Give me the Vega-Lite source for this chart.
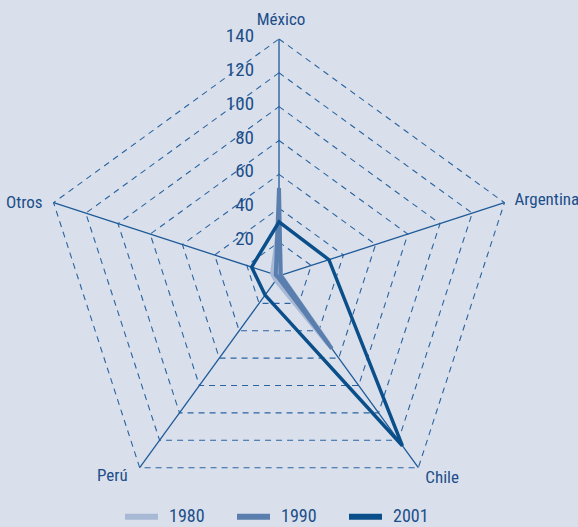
{
  "$schema": "https://vega.github.io/schema/vega-lite/v6.json",
  "width": 578,
  "height": 527,
  "autosize": "none",
  "padding": 0,
  "background": "#d9e0ec",
  "config": {
    "view": {"stroke": null},
    "font": "Roboto Condensed, Liberation Sans Narrow, DejaVu Sans Condensed, Roboto, sans-serif",
    "legend": {
      "orient": "none",
      "legendX": 122,
      "legendY": 497,
      "direction": "horizontal",
      "symbolType": "stroke",
      "symbolSize": 1089,
      "symbolStrokeWidth": 6,
      "labelFontSize": 18,
      "labelColor": "#1d4e89",
      "labelOffset": 8,
      "columnPadding": 20,
      "padding": 0
    }
  },
  "datasets": {
    "series": [
      {"year": "1980", "axis": "México", "value": 30},
      {"year": "1980", "axis": "Argentina", "value": 1},
      {"year": "1980", "axis": "Chile", "value": 50},
      {"year": "1980", "axis": "Perú", "value": 3},
      {"year": "1980", "axis": "Otros", "value": 4},
      {"year": "1990", "axis": "México", "value": 52},
      {"year": "1990", "axis": "Argentina", "value": 1},
      {"year": "1990", "axis": "Chile", "value": 53},
      {"year": "1990", "axis": "Perú", "value": 1},
      {"year": "1990", "axis": "Otros", "value": 2},
      {"year": "2001", "axis": "México", "value": 32},
      {"year": "2001", "axis": "Argentina", "value": 31},
      {"year": "2001", "axis": "Chile", "value": 124},
      {"year": "2001", "axis": "Perú", "value": 14},
      {"year": "2001", "axis": "Otros", "value": 17}
    ],
    "axes": [
      {"axis": "México"},
      {"axis": "Argentina"},
      {"axis": "Chile"},
      {"axis": "Perú"},
      {"axis": "Otros"}
    ],
    "levels": [
      {"level": 20}, {"level": 40}, {"level": 60}, {"level": 80},
      {"level": 100}, {"level": 120}, {"level": 140}
    ]
  },
  "layer": [
    {
      "data": {"name": "levels"},
      "transform": [
        {"calculate": "['México','Argentina','Chile','Perú','Otros']", "as": "axis"},
        {"flatten": ["axis"]},
        {"calculate": "indexof(['México','Argentina','Chile','Perú','Otros'], datum.axis)", "as": "idx"},
        {"calculate": "datum.level * sin(datum.idx * 2 * PI / 5)", "as": "x"},
        {"calculate": "datum.level * cos(datum.idx * 2 * PI / 5)", "as": "y"}
      ],
      "mark": {"type": "line", "interpolate": "linear-closed", "stroke": "#2a63a0", "strokeWidth": 1.1, "strokeDash": [6, 5]},
      "encoding": {
        "x": {"field": "x", "type": "quantitative", "scale": {"domain": [-164.8, 176.6], "nice": false, "zero": false}, "axis": null},
        "y": {"field": "y", "type": "quantitative", "scale": {"domain": [-148.3, 163.0], "nice": false, "zero": false}, "axis": null},
        "detail": {"field": "level", "type": "nominal"},
        "order": {"field": "idx", "type": "quantitative"}
      }
    },
    {
      "data": {"name": "axes"},
      "transform": [
        {"calculate": "indexof(['México','Argentina','Chile','Perú','Otros'], datum.axis)", "as": "idx"},
        {"calculate": "0", "as": "x0"},
        {"calculate": "140 * sin(datum.idx * 2 * PI / 5)", "as": "xe"},
        {"calculate": "140 * cos(datum.idx * 2 * PI / 5)", "as": "ye"}
      ],
      "mark": {"type": "rule", "stroke": "#1f5a98", "strokeWidth": 1.3},
      "encoding": {
        "x": {"field": "x0", "type": "quantitative", "scale": {"domain": [-164.8, 176.6], "nice": false, "zero": false}, "axis": null},
        "y": {"field": "x0", "type": "quantitative", "scale": {"domain": [-148.3, 163.0], "nice": false, "zero": false}, "axis": null},
        "x2": {"field": "xe"},
        "y2": {"field": "ye"}
      }
    },
    {
      "data": {"name": "series"},
      "transform": [
        {"filter": "datum.year == '1980'"},
        {"calculate": "indexof(['México','Argentina','Chile','Perú','Otros'], datum.axis)", "as": "idx"},
        {"calculate": "datum.value * sin(datum.idx * 2 * PI / 5)", "as": "x"},
        {"calculate": "datum.value * cos(datum.idx * 2 * PI / 5)", "as": "y"}
      ],
      "mark": {"type": "line", "interpolate": "linear-closed", "strokeWidth": 5},
      "encoding": {
        "x": {"field": "x", "type": "quantitative", "scale": {"domain": [-164.8, 176.6], "nice": false, "zero": false}, "axis": null},
        "y": {"field": "y", "type": "quantitative", "scale": {"domain": [-148.3, 163.0], "nice": false, "zero": false}, "axis": null},
        "color": {"field": "year", "type": "nominal", "title": null, "scale": {"domain": ["1980", "1990", "2001"], "range": ["#a8b9d6", "#5a7eae", "#0b4f8a"]}},
        "order": {"field": "idx", "type": "quantitative"}
      }
    },
    {
      "data": {"name": "series"},
      "transform": [
        {"filter": "datum.year == '1990'"},
        {"calculate": "indexof(['México','Argentina','Chile','Perú','Otros'], datum.axis)", "as": "idx"},
        {"calculate": "datum.value * sin(datum.idx * 2 * PI / 5)", "as": "x"},
        {"calculate": "datum.value * cos(datum.idx * 2 * PI / 5)", "as": "y"}
      ],
      "mark": {"type": "line", "interpolate": "linear-closed", "strokeWidth": 4},
      "encoding": {
        "x": {"field": "x", "type": "quantitative", "scale": {"domain": [-164.8, 176.6], "nice": false, "zero": false}, "axis": null},
        "y": {"field": "y", "type": "quantitative", "scale": {"domain": [-148.3, 163.0], "nice": false, "zero": false}, "axis": null},
        "color": {"field": "year", "type": "nominal", "title": null, "scale": {"domain": ["1980", "1990", "2001"], "range": ["#a8b9d6", "#5a7eae", "#0b4f8a"]}},
        "order": {"field": "idx", "type": "quantitative"}
      }
    },
    {
      "data": {"name": "series"},
      "transform": [
        {"filter": "datum.year == '2001'"},
        {"calculate": "indexof(['México','Argentina','Chile','Perú','Otros'], datum.axis)", "as": "idx"},
        {"calculate": "datum.value * sin(datum.idx * 2 * PI / 5)", "as": "x"},
        {"calculate": "datum.value * cos(datum.idx * 2 * PI / 5)", "as": "y"}
      ],
      "mark": {"type": "line", "interpolate": "linear-closed", "strokeWidth": 3.5},
      "encoding": {
        "x": {"field": "x", "type": "quantitative", "scale": {"domain": [-164.8, 176.6], "nice": false, "zero": false}, "axis": null},
        "y": {"field": "y", "type": "quantitative", "scale": {"domain": [-148.3, 163.0], "nice": false, "zero": false}, "axis": null},
        "color": {"field": "year", "type": "nominal", "title": null, "scale": {"domain": ["1980", "1990", "2001"], "range": ["#a8b9d6", "#5a7eae", "#0b4f8a"]}},
        "order": {"field": "idx", "type": "quantitative"}
      }
    },
    {
      "data": {"name": "levels"},
      "transform": [{"calculate": "0", "as": "x0"}],
      "mark": {"type": "text", "align": "right", "baseline": "middle", "dx": -25, "dy": -3, "fontSize": 19, "color": "#1d4e89"},
      "encoding": {
        "x": {"field": "x0", "type": "quantitative", "scale": {"domain": [-164.8, 176.6], "nice": false, "zero": false}, "axis": null},
        "y": {"field": "level", "type": "quantitative", "scale": {"domain": [-148.3, 163.0], "nice": false, "zero": false}, "axis": null},
        "text": {"field": "level", "type": "quantitative"}
      }
    },
    {
      "data": {"name": "axes"},
      "transform": [
        {"filter": "datum.axis == 'México'"},
        {"calculate": "indexof(['México','Argentina','Chile','Perú','Otros'], datum.axis)", "as": "idx"},
        {"calculate": "140 * sin(datum.idx * 2 * PI / 5)", "as": "xe"},
        {"calculate": "140 * cos(datum.idx * 2 * PI / 5)", "as": "ye"}
      ],
      "mark": {"type": "text", "align": "center", "baseline": "middle", "dx": 2, "dy": -19, "fontSize": 17, "color": "#1d4e89"},
      "encoding": {
        "x": {"field": "xe", "type": "quantitative", "scale": {"domain": [-164.8, 176.6], "nice": false, "zero": false}, "axis": null},
        "y": {"field": "ye", "type": "quantitative", "scale": {"domain": [-148.3, 163.0], "nice": false, "zero": false}, "axis": null},
        "text": {"field": "axis", "type": "nominal"}
      }
    },
    {
      "data": {"name": "axes"},
      "transform": [
        {"filter": "datum.axis == 'Argentina'"},
        {"calculate": "indexof(['México','Argentina','Chile','Perú','Otros'], datum.axis)", "as": "idx"},
        {"calculate": "140 * sin(datum.idx * 2 * PI / 5)", "as": "xe"},
        {"calculate": "140 * cos(datum.idx * 2 * PI / 5)", "as": "ye"}
      ],
      "mark": {"type": "text", "align": "left", "baseline": "middle", "dx": 10, "dy": -3, "fontSize": 17, "color": "#1d4e89"},
      "encoding": {
        "x": {"field": "xe", "type": "quantitative", "scale": {"domain": [-164.8, 176.6], "nice": false, "zero": false}, "axis": null},
        "y": {"field": "ye", "type": "quantitative", "scale": {"domain": [-148.3, 163.0], "nice": false, "zero": false}, "axis": null},
        "text": {"field": "axis", "type": "nominal"}
      }
    },
    {
      "data": {"name": "axes"},
      "transform": [
        {"filter": "datum.axis == 'Chile'"},
        {"calculate": "indexof(['México','Argentina','Chile','Perú','Otros'], datum.axis)", "as": "idx"},
        {"calculate": "140 * sin(datum.idx * 2 * PI / 5)", "as": "xe"},
        {"calculate": "140 * cos(datum.idx * 2 * PI / 5)", "as": "ye"}
      ],
      "mark": {"type": "text", "align": "left", "baseline": "middle", "dx": 7, "dy": 10, "fontSize": 17, "color": "#1d4e89"},
      "encoding": {
        "x": {"field": "xe", "type": "quantitative", "scale": {"domain": [-164.8, 176.6], "nice": false, "zero": false}, "axis": null},
        "y": {"field": "ye", "type": "quantitative", "scale": {"domain": [-148.3, 163.0], "nice": false, "zero": false}, "axis": null},
        "text": {"field": "axis", "type": "nominal"}
      }
    },
    {
      "data": {"name": "axes"},
      "transform": [
        {"filter": "datum.axis == 'Perú'"},
        {"calculate": "indexof(['México','Argentina','Chile','Perú','Otros'], datum.axis)", "as": "idx"},
        {"calculate": "140 * sin(datum.idx * 2 * PI / 5)", "as": "xe"},
        {"calculate": "140 * cos(datum.idx * 2 * PI / 5)", "as": "ye"}
      ],
      "mark": {"type": "text", "align": "right", "baseline": "middle", "dx": -12, "dy": 8, "fontSize": 17, "color": "#1d4e89"},
      "encoding": {
        "x": {"field": "xe", "type": "quantitative", "scale": {"domain": [-164.8, 176.6], "nice": false, "zero": false}, "axis": null},
        "y": {"field": "ye", "type": "quantitative", "scale": {"domain": [-148.3, 163.0], "nice": false, "zero": false}, "axis": null},
        "text": {"field": "axis", "type": "nominal"}
      }
    },
    {
      "data": {"name": "axes"},
      "transform": [
        {"filter": "datum.axis == 'Otros'"},
        {"calculate": "indexof(['México','Argentina','Chile','Perú','Otros'], datum.axis)", "as": "idx"},
        {"calculate": "140 * sin(datum.idx * 2 * PI / 5)", "as": "xe"},
        {"calculate": "140 * cos(datum.idx * 2 * PI / 5)", "as": "ye"}
      ],
      "mark": {"type": "text", "align": "right", "baseline": "middle", "dx": -11, "dy": 0, "fontSize": 17, "color": "#1d4e89"},
      "encoding": {
        "x": {"field": "xe", "type": "quantitative", "scale": {"domain": [-164.8, 176.6], "nice": false, "zero": false}, "axis": null},
        "y": {"field": "ye", "type": "quantitative", "scale": {"domain": [-148.3, 163.0], "nice": false, "zero": false}, "axis": null},
        "text": {"field": "axis", "type": "nominal"}
      }
    }
  ]
}
